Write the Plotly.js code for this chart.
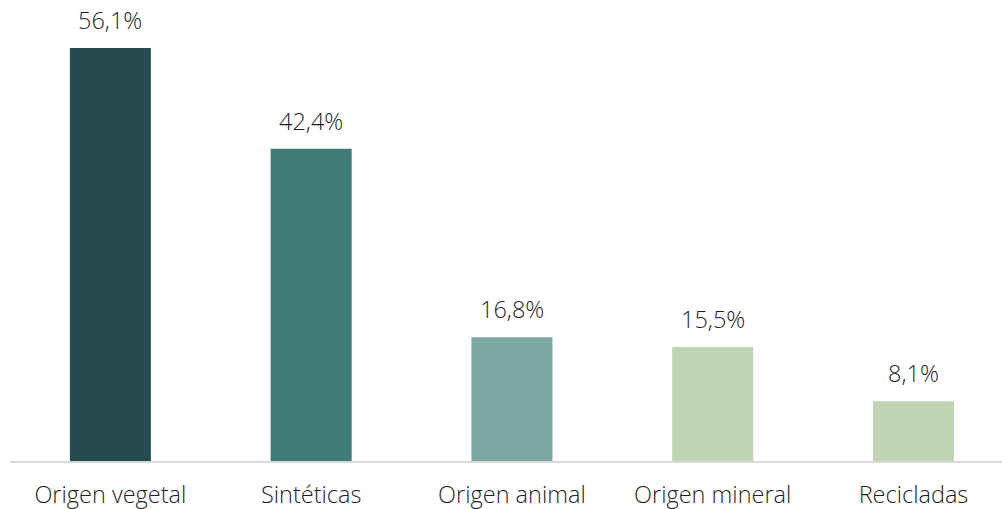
<!DOCTYPE html>
<html><head><meta charset="utf-8">
<script src="https://cdn.plot.ly/plotly-3.0.1.min.js"></script>
<style>html,body{margin:0;padding:0;background:#fff}#chart{width:1002px;height:509px}</style>
</head><body><div id="chart"></div>
<script>
const categories = ["Origen vegetal", "Sintéticas", "Origen animal", "Origen mineral", "Recicladas"];
const values = [56.1, 42.4, 16.8, 15.5, 8.1];
const labels = ["56,1%", "42,4%", "16,8%", "15,5%", "8,1%"];
const colors = ["#264b51", "#3f7b78", "#7ba8a2", "#c0d4b4", "#c0d4b4"];

const font = "'Open Sans', sans-serif";
const trace = {
  type: "bar",
  x: categories.map((c, i) => i),
  y: values,
  width: 0.4035,
  marker: {color: colors},
  hoverinfo: "skip"
};
const annotations = values.map((v, i) => ({
  x: i, y: v, xref: "x", yref: "y",
  text: labels[i], showarrow: false,
  yanchor: "bottom", yshift: 10,
  font: {family: font, size: 23.5, color: "#1f1f1f", weight: 300}
}));
const layout = {
  width: 1002, height: 509,
  margin: {l: 10, r: 0, t: 0, b: 48},
  paper_bgcolor: "#fff", plot_bgcolor: "#fff",
  showlegend: false,
  xaxis: {
    range: [-0.5, 4.441], tickmode: "array",
    tickvals: categories.map((c, i) => i), ticktext: categories,
    showline: true, linecolor: "#d9d9d9", linewidth: 1.5,
    showgrid: false, zeroline: false, ticks: "",
    ticklabelstandoff: 12,
    tickfont: {family: font, size: 23.5, color: "#1f1f1f", weight: 300},
    fixedrange: true
  },
  yaxis: {range: [0, 62.62], visible: false, showgrid: false, zeroline: false, fixedrange: true},
  annotations: annotations
};
Plotly.newPlot("chart", [trace], layout, {displayModeBar: false, staticPlot: true});
</script></body></html>
